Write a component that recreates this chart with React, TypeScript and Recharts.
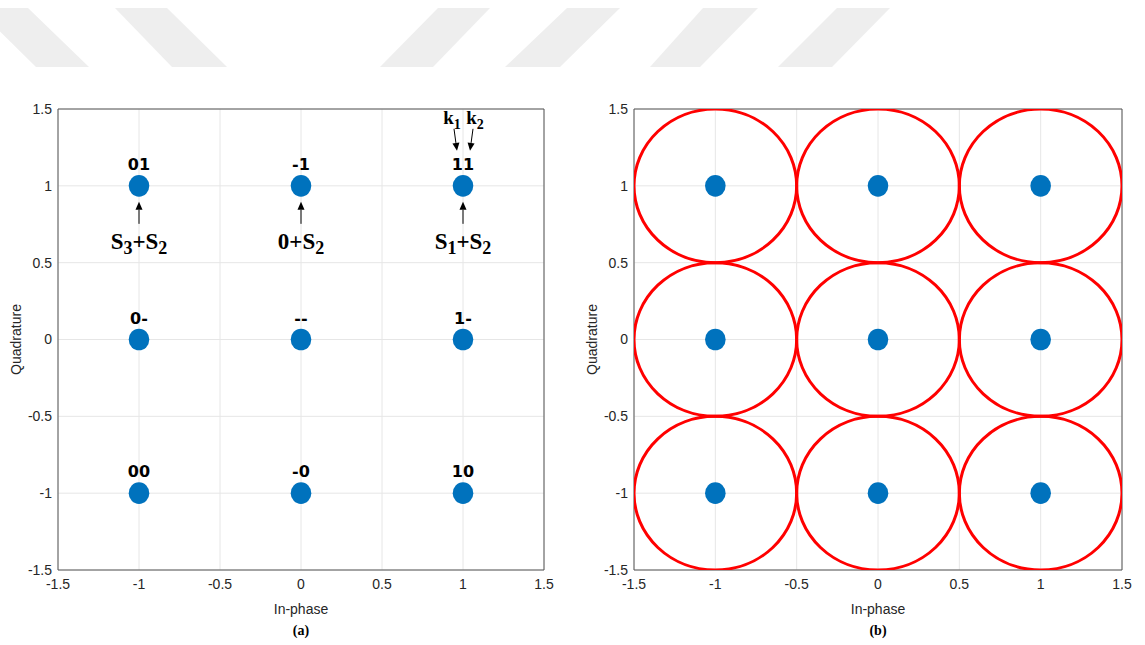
import React from "react";
import {
  ScatterChart,
  Scatter,
  XAxis,
  YAxis,
  CartesianGrid,
  ReferenceLine,
  Label,
} from "recharts";

// constellation points
const inPhase = [-1, 0, 1, -1, 0, 1, -1, 0, 1];
const quadrature = [1, 1, 1, 0, 0, 0, -1, -1, -1];
const bitLabels = ["01", "-1", "11", "0-", "--", "1-", "00", "-0", "10"];

// annotations under the top row (panel a)
const annotX = [-1, 0, 1];
const annotY = [1, 1, 1];
const annotText = ["S_3+S_2", "0+S_2", "S_1+S_2"];
const keyLabels = ["k_1", "k_2"];

// decision circles (panel b)
const circleRadius = 0.5;

const axisTicks = [-1.5, -1, -0.5, 0, 0.5, 1, 1.5];
const DOMAIN: [number, number] = [-1.5, 1.5];

const points = inPhase.map((x, i) => ({ x, y: quadrature[i], label: bitLabels[i] }));
const annots = annotX.map((x, i) => ({
  x,
  y: annotY[i],
  text: annotText[i],
  keys: x === 1 ? keyLabels : null,
}));

const BLUE = "#0072BD";
const AXIS = "#555555";
const TXT = "#262626";
const H = 645;
const M_TOP = 109;
const M_BOTTOM = 25;
const X_AXIS_H = 50;
const Y_AXIS_W = 58;

type Seg = { t: string; sub: boolean };
function parseSub(s: string): Seg[] {
  const out: Seg[] = [];
  for (let i = 0; i < s.length; i++) {
    if (s[i] === "_") {
      out.push({ t: s[i + 1], sub: true });
      i++;
    } else if (out.length && !out[out.length - 1].sub) {
      out[out.length - 1].t += s[i];
    } else {
      out.push({ t: s[i], sub: false });
    }
  }
  return out;
}

function SubText({ x, y, text, size, subSize }: any) {
  let shifted = false;
  const segs = parseSub(text);
  return (
    <text
      x={x}
      y={y}
      textAnchor="middle"
      fontFamily="'Liberation Serif', 'DejaVu Serif', serif"
      fontWeight="bold"
      fontSize={size}
      fill="#000"
    >
      {segs.map((seg, i) => {
        const dy = seg.sub && !shifted ? 5 : !seg.sub && shifted ? -5 : 0;
        shifted = seg.sub;
        return (
          <tspan key={i} dy={dy} fontSize={seg.sub ? subSize : size}>
            {seg.t}
          </tspan>
        );
      })}
    </text>
  );
}

function Arrow({ x1, y1, x2, y2 }: any) {
  const ang = Math.atan2(y2 - y1, x2 - x1);
  const len = 8;
  const w = 3.5;
  const bx = x2 - len * Math.cos(ang);
  const by = y2 - len * Math.sin(ang);
  const px = -Math.sin(ang) * w;
  const py = Math.cos(ang) * w;
  return (
    <g>
      <line x1={x1} y1={y1} x2={bx} y2={by} stroke="#000" strokeWidth={1} />
      <polygon points={`${x2},${y2} ${bx + px},${by + py} ${bx - px},${by - py}`} fill="#000" />
    </g>
  );
}

const dotShape = (withLabel: boolean) => (props: any) => {
  const { cx, cy, payload } = props;
  return (
    <g>
      <ellipse cx={cx} cy={cy} rx={10.3} ry={10.8} fill={BLUE} />
      {withLabel && (
        <text
          x={cx}
          y={cy - 16}
          textAnchor="middle"
          fontFamily="'DejaVu Sans', sans-serif"
          fontWeight="bold"
          fontSize={16}
          fill="#000"
        >
          {payload.label}
        </text>
      )}
    </g>
  );
};

const annotShape = (props: any) => {
  const { cx, cy, payload } = props;
  return (
    <g>
      <Arrow x1={cx} y1={cy + 38} x2={cx} y2={cy + 16} />
      <SubText x={cx} y={cy + 63} text={payload.text} size={23} subSize={18} />
      {payload.keys && (
        <g>
          <SubText x={cx - 11} y={cy - 62} text={payload.keys[0]} size={19} subSize={14} />
          <SubText x={cx + 12} y={cy - 62} text={payload.keys[1]} size={19} subSize={14} />
          <Arrow x1={cx - 9} y1={cy - 57} x2={cx - 6} y2={cy - 35} />
          <Arrow x1={cx + 10} y1={cy - 57} x2={cx + 7} y2={cy - 35} />
        </g>
      )}
    </g>
  );
};

const circleShape = (plotW: number, plotH: number) => (props: any) => {
  const { cx, cy } = props;
  const span = DOMAIN[1] - DOMAIN[0];
  return (
    <ellipse
      cx={cx}
      cy={cy}
      rx={(circleRadius * plotW) / span}
      ry={(circleRadius * plotH) / span}
      fill="none"
      stroke="#FF0000"
      strokeWidth={3}
    />
  );
};

type PanelProps = {
  left: number;
  width: number;
  plotW: number;
  tag: string;
  labelled: boolean;
};

function Panel({ left, width, plotW, tag, labelled }: PanelProps) {
  const plotH = H - M_TOP - M_BOTTOM - X_AXIS_H;
  const tickStyle = { fontSize: 14, fill: TXT, fontFamily: "'Liberation Sans', Arial, sans-serif" };
  return (
    <div style={{ position: "absolute", left, top: 0, width, height: H }}>
      <ScatterChart
        width={width}
        height={H}
        margin={{ top: M_TOP, right: width - Y_AXIS_W - plotW, bottom: M_BOTTOM, left: 0 }}
      >
        <CartesianGrid stroke="#e6e6e6" strokeWidth={1} />
        <XAxis
          type="number"
          dataKey="x"
          domain={DOMAIN}
          ticks={axisTicks}
          interval={0}
          height={X_AXIS_H}
          stroke={AXIS}
          tick={tickStyle}
          tickLine={false}
          tickSize={6}
          tickMargin={3}
          allowDataOverflow
        >
          <Label
            value="In-phase"
            position="insideBottom"
            offset={6}
            style={{ fontSize: 14, fill: TXT, fontFamily: "'Liberation Sans', Arial, sans-serif" }}
          />
        </XAxis>
        <YAxis
          type="number"
          dataKey="y"
          domain={DOMAIN}
          ticks={axisTicks}
          interval={0}
          width={Y_AXIS_W}
          stroke={AXIS}
          tick={tickStyle}
          tickLine={false}
          tickSize={4}
          tickMargin={2}
          allowDataOverflow
        >
          <Label
            value="Quadrature"
            angle={-90}
            position="insideLeft"
            offset={16}
            style={{
              fontSize: 14,
              fill: TXT,
              textAnchor: "middle",
              fontFamily: "'Liberation Sans', Arial, sans-serif",
            }}
          />
        </YAxis>
        <ReferenceLine y={1.5} stroke={AXIS} />
        <ReferenceLine x={1.5} stroke={AXIS} />
        {!labelled && (
          <Scatter
            data={points}
            shape={circleShape(plotW, plotH)}
            isAnimationActive={false}
          />
        )}
        <Scatter data={points} shape={dotShape(labelled)} isAnimationActive={false} />
        {labelled && <Scatter data={annots} shape={annotShape} isAnimationActive={false} />}
      </ScatterChart>
      <div
        style={{
          position: "absolute",
          left: Y_AXIS_W,
          width: plotW,
          top: 623,
          textAlign: "center",
          fontFamily: "'Liberation Serif', serif",
          fontWeight: "bold",
          fontSize: 14,
          lineHeight: "16px",
          color: "#000",
        }}
      >
        {tag}
      </div>
    </div>
  );
}

// faint background stripes at the top of the page
const stripes = [
  [-24, 28, 89, 36],
  [115, 167, 227, 172],
  [438, 490, 433, 380],
  [567, 620, 560, 505],
  [703, 758, 700, 650],
  [837, 890, 832, 778],
];

export default function App() {
  return (
    <div
      style={{
        position: "absolute",
        left: 0,
        top: 0,
        width: 1145,
        height: 645,
        background: "#fff",
        overflow: "hidden",
      }}
    >
      <svg width={1145} height={80} style={{ position: "absolute", left: 0, top: 0 }}>
        {stripes.map(([a, b, c, d], i) => (
          <polygon key={i} points={`${a},8 ${b},8 ${c},67 ${d},67`} fill="#eeeeee" />
        ))}
      </svg>
      <Panel left={0} width={575} plotW={486} tag="(a)" labelled={true} />
      <Panel left={576} width={569} plotW={488} tag="(b)" labelled={false} />
    </div>
  );
}
